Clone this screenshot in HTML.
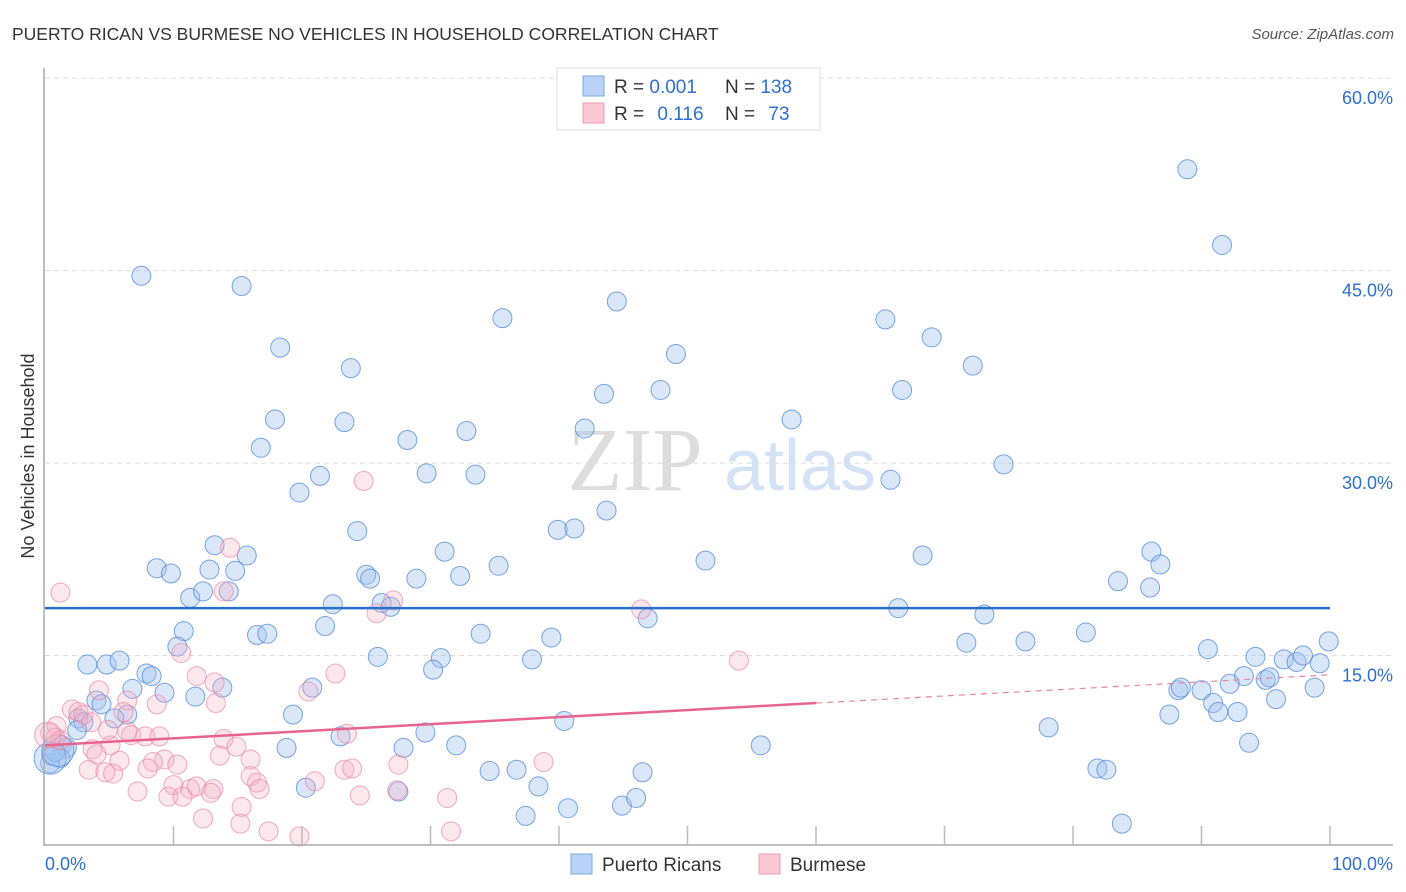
<!DOCTYPE html>
<html><head><meta charset="utf-8"><style>
body{margin:0;background:#fff;font-family:"Liberation Sans",sans-serif;}
svg{display:block}
</style></head><body>
<svg id="chart" width="1406" height="892" xmlns="http://www.w3.org/2000/svg">
<text x="12" y="40" font-size="17.5" fill="#333">PUERTO RICAN VS BURMESE NO VEHICLES IN HOUSEHOLD CORRELATION CHART</text>
<text x="1394" y="39" font-size="15" fill="#555" font-style="italic" text-anchor="end">Source: ZipAtlas.com</text>
<g id="grid"></g>
<text x="635" y="490" font-size="90" fill="#ddd" font-family="Liberation Serif" text-anchor="middle">ZIP</text>
<text x="800" y="490" font-size="72" fill="#d4e2f5" text-anchor="middle">atlas</text>
<g id="pts"></g>
<g id="lines"></g>
<line x1="44" y1="68" x2="44" y2="846" stroke="#aaa" stroke-width="1.5"/>
<line x1="44" y1="845" x2="1393" y2="845" stroke="#aaa" stroke-width="1.5"/>
<g id="axes"></g>
<text transform="translate(34,456) rotate(-90)" font-size="18" fill="#333" text-anchor="middle">No Vehicles in Household</text>
<g>
<rect x="557" y="68" width="263" height="62" fill="#fff" stroke="#ddd"/>
<rect x="583" y="76" width="21" height="20" fill="#b8d3f5" stroke="#7aa8e6"/>
<rect x="583" y="103" width="21" height="20" fill="#fbc8d6" stroke="#ef9ab3"/>
<text x="614" y="93" font-size="19" fill="#333">R = <tspan fill="#2f6fd0">0.001</tspan></text>
<text x="725" y="93" font-size="19" fill="#333">N = <tspan fill="#2f6fd0">138</tspan></text>
<text x="614" y="120" font-size="19" fill="#333">R = <tspan fill="#2f6fd0" dx="8">0.116</tspan></text>
<text x="725" y="120" font-size="19" fill="#333">N = <tspan fill="#2f6fd0" dx="8">73</tspan></text>
</g>
<g>
<rect x="571" y="854" width="21" height="20" fill="#b8d3f5" stroke="#7aa8e6"/>
<text x="602" y="871" font-size="19" fill="#333">Puerto Ricans</text>
<rect x="759" y="854" width="21" height="20" fill="#fbc8d6" stroke="#ef9ab3"/>
<text x="790" y="871" font-size="19" fill="#333">Burmese</text>
</g>
</svg>
<script>
const blueX=[7.5,15.3,18.3,23.8,17.9,23.3,16.8,28.2,32.8,35.6,44.5,49.1,43.5,47.9,42.0,58.1,65.4,69.0,66.7,72.2,88.9,91.6,19.8,21.4,29.7,33.5,24.3,39.9,41.2,43.7,65.8,74.6,13.2,15.7,8.7,9.8,12.8,14.8,11.3,12.3,14.3,25.0,25.3,28.9,31.1,32.3,35.3,51.4,68.3,86.1,86.8,83.5,86.0,22.4,26.2,26.9,66.4,73.1,46.9,10.8,16.5,17.3,21.8,33.9,39.4,71.7,76.3,81.0,10.3,3.3,4.8,5.8,7.9,8.3,25.9,30.8,30.2,37.9,90.5,94.2,96.4,97.4,97.9,99.2,99.9,93.3,95.0,95.3,92.2,88.2,88.4,90.0,98.8,95.8,90.9,91.3,92.8,87.5,6.8,9.3,11.7,13.8,20.8,4.0,4.4,6.4,5.4,2.6,3.0,19.3,40.4,2.5,23.0,29.6,18.8,27.9,32.0,55.7,78.1,93.7,1.3,1.7,0.5,1.2,0.4,0.8,34.6,36.7,38.4,46.5,81.9,82.6,20.3,27.5,37.4,40.7,44.9,46.0,83.8,0.4,1.0];
const blueY=[44.6,43.8,39.0,37.4,33.4,33.2,31.2,31.8,32.5,41.3,42.6,38.5,35.4,35.7,32.7,33.4,41.2,39.8,35.7,37.6,52.9,47.0,27.7,29.0,29.2,29.1,24.7,24.8,24.9,26.3,28.7,29.9,23.6,22.8,21.8,21.4,21.7,21.6,19.5,20.0,20.0,21.3,21.0,21.0,23.1,21.2,22.0,22.4,22.8,23.1,22.1,20.8,20.3,19.0,19.1,18.8,18.7,18.2,17.9,16.9,16.6,16.7,17.3,16.7,16.4,16.0,16.1,16.8,15.7,14.3,14.3,14.6,13.6,13.4,14.9,14.8,13.9,14.7,15.5,14.9,14.7,14.5,15.0,14.4,16.1,13.4,13.1,13.3,12.8,12.3,12.5,12.3,12.5,11.6,11.3,10.6,10.6,10.4,12.4,12.1,11.8,12.5,12.5,11.5,11.2,10.4,10.1,10.1,9.8,10.4,9.9,9.2,8.7,9.0,7.8,7.8,8.0,8.0,9.4,8.2,8.0,7.8,7.2,7.0,6.6,7.5,6.0,6.1,4.8,5.9,6.2,6.1,4.7,4.4,2.5,3.1,3.3,3.9,1.9,7.0,7.6];
const pinkX=[1.2,14.4,24.8,46.4,54.0,10.6,13.9,27.1,25.8,11.8,13.2,22.6,20.5,4.2,6.4,8.7,13.3,2.1,2.6,3.0,6.1,3.6,0.9,0.4,4.9,6.4,6.7,7.8,8.9,0.8,1.2,3.7,5.1,13.9,14.9,23.5,13.6,16.0,9.3,10.3,8.4,5.8,4.0,3.4,4.7,5.3,8.0,21.0,23.3,23.9,27.5,38.8,16.5,16.0,16.7,11.3,11.8,13.1,10.0,7.2,9.6,10.7,12.9,15.3,24.5,27.4,31.3,12.3,15.2,17.4,19.8,31.6,0.2];
const pinkY=[19.9,23.4,28.6,18.6,14.6,15.2,20.0,19.3,18.3,13.4,12.9,13.6,12.2,12.3,11.5,11.2,11.3,10.8,10.6,10.4,10.6,9.8,9.5,9.0,9.2,9.1,8.8,8.7,8.7,8.6,8.4,7.7,8.0,8.5,7.9,8.9,7.2,6.9,6.9,6.5,6.7,6.8,7.3,6.1,5.9,5.8,6.2,5.2,6.1,6.2,6.5,6.7,5.1,5.6,4.6,4.6,4.8,4.6,4.9,4.4,4.0,4.0,4.3,3.2,4.1,4.5,3.9,2.3,1.9,1.3,0.9,1.3,8.8];
const yTicks=[15,30,45,60];
const blueTrend=[18.7,18.7];
const pinkTrend=[8.0,13.5];
const NS="http://www.w3.org/2000/svg";
const sx=v=>45+v*12.85, sy=v=>848-v*12.83;
function mk(t,a,p){const e=document.createElementNS(NS,t);for(const k in a)e.setAttribute(k,a[k]);p.appendChild(e);return e;}
const grid=document.getElementById('grid'),axes=document.getElementById('axes');
yTicks.forEach(t=>{
 const l=mk('line',{x1:45,x2:1393,y1:sy(t),y2:sy(t),stroke:'#ddd','stroke-dasharray':'5,4'},grid);
 
 
 const tx=mk('text',{x:1393,y:sy(t)+26,'font-size':18,fill:'#2f6fd0','text-anchor':'end'},axes);
 tx.textContent=t.toFixed(1)+'%';
 
 
});
for(let i=1;i<=10;i++){
 const l=mk('line',{x1:sx(i*10),x2:sx(i*10),y1:826,y2:845,stroke:'#bbb','stroke-width':1.5},axes);
 
 
}
[[0,'0.0%','start',45],[100,'100.0%','end',1393]].forEach(d=>{
 const t=mk('text',{x:d[3],y:870,'font-size':18,fill:'#2f6fd0','text-anchor':d[2]},axes);
 t.textContent=d[1];
 
 
});
const pts=document.getElementById('pts');
blueX.forEach((x,i)=>{
 const c=mk('circle',{cx:sx(x),cy:sy(blueY[i]),r:(i>=blueX.length-2?16:9.5),fill:'rgba(160,196,240,0.4)',stroke:'rgba(80,135,215,0.75)','stroke-width':1},pts);
 
 
});
pinkX.forEach((x,i)=>{
 const c=mk('circle',{cx:sx(x),cy:sy(pinkY[i]),r:(i==pinkX.length-1?13:9.5),fill:'rgba(246,175,196,0.3)',stroke:'rgba(232,135,165,0.7)','stroke-width':1},pts);
 
 
});
const lines=document.getElementById('lines');
const bl=mk('line',{x1:sx(0),x2:sx(100),y1:sy(blueTrend[0]),y2:sy(blueTrend[1]),stroke:'#2a6fc9','stroke-width':2.5},lines);


const pm=pinkTrend[0]+(pinkTrend[1]-pinkTrend[0])*0.6;
const pl=mk('line',{x1:sx(0),x2:sx(60),y1:sy(pinkTrend[0]),y2:sy(pm),stroke:'#e8648f','stroke-width':2.5},lines);


const pd=mk('line',{x1:sx(60),x2:sx(100),y1:sy(pm),y2:sy(pinkTrend[1]),stroke:'#e8889f','stroke-width':1.2,'stroke-dasharray':'6,5'},lines);


</script>
</body></html>
